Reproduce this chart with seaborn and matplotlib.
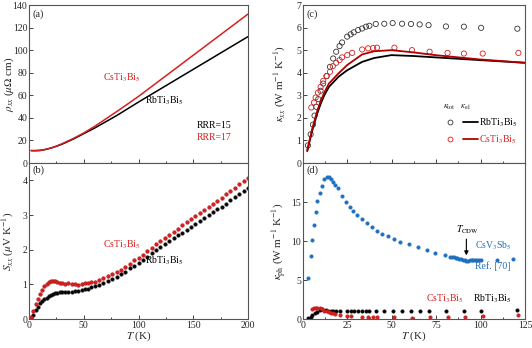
import numpy as np
import pandas as pd
import matplotlib
matplotlib.use('Agg')
import matplotlib.pyplot as plt
import seaborn as sns
from matplotlib.lines import Line2D
from matplotlib.legend_handler import HandlerTuple

# ---- (a) resistivity ----
T_rho = [2, 5, 10, 15, 20, 25, 30, 40, 50, 60, 70, 80, 90, 100, 110, 120, 130, 140, 150, 160, 170, 180, 190, 200]
rho_rb = [11, 11, 11.2, 12, 13.2, 14.8, 16.6, 21, 26, 31, 36.5, 42, 48, 54, 59.8, 65.6, 71.4, 77.2, 83, 88.8, 94.6, 100.4, 106.2, 112]
rho_cs = [11, 10.8, 11, 12, 13.3, 15, 17, 21.5, 26.6, 32.5, 39, 45.5, 52.2, 59, 66.3, 73.6, 80.9, 88.2, 95.5, 102.8, 110.1, 117.4, 124.7, 132]

# ---- (b) Seebeck ----
T_s = [2, 4, 6, 8, 10, 12, 14, 16, 18, 20, 22, 24, 26, 28, 30, 33, 36, 39, 42, 45, 48, 51, 54, 57, 60,
       64, 68, 72, 76, 80, 84, 88, 92, 96, 100, 104, 108, 112, 116, 120, 124, 128, 132, 136, 140,
       144, 148, 152, 156, 160, 164, 168, 172, 176, 180, 184, 188, 192, 196, 200]
S_rb = [0.03, 0.12, 0.25, 0.36, 0.45, 0.52, 0.58, 0.62, 0.66, 0.70, 0.72, 0.74, 0.76, 0.77, 0.78, 0.79, 0.79,
        0.79, 0.80, 0.81, 0.83, 0.86, 0.88, 0.91, 0.94, 0.99, 1.05, 1.10, 1.15, 1.21, 1.29, 1.37, 1.46, 1.54,
        1.62, 1.71, 1.80, 1.89, 1.98, 2.07, 2.15, 2.24, 2.33, 2.41, 2.49, 2.58, 2.66, 2.74, 2.83, 2.91, 2.99,
        3.08, 3.16, 3.24, 3.33, 3.42, 3.51, 3.60, 3.69, 3.78]
S_cs = [0.05, 0.22, 0.42, 0.58, 0.72, 0.85, 0.95, 1.02, 1.06, 1.09, 1.10, 1.09, 1.07, 1.05, 1.04, 1.02, 1.03,
        1.01, 1.00, 0.99, 1.01, 1.03, 1.04, 1.06, 1.08, 1.12, 1.17, 1.23, 1.29, 1.35, 1.42, 1.51, 1.60, 1.69,
        1.77, 1.86, 1.96, 2.06, 2.15, 2.24, 2.33, 2.43, 2.52, 2.61, 2.70, 2.80, 2.89, 2.97, 3.06, 3.15, 3.24,
        3.32, 3.41, 3.50, 3.60, 3.69, 3.78, 3.88, 3.97, 4.06]

# ---- (c) thermal conductivity ----
T_ktot_rb = [2.8, 4.3, 5.6, 6.5, 7.5, 8.6, 9.9, 11.4, 13.3, 15.2, 17, 18.7, 20.6, 22, 24.9, 26.8, 28.6, 31, 33.3,
             35.5, 37.4, 41, 45.8, 50.5, 55.8, 60.8, 65.7, 70.7, 80.5, 90.6, 100.3, 120.7]
ktot_rb = [0.78, 1.27, 1.7, 2.1, 2.49, 2.83, 3.2, 3.52, 3.85, 4.26, 4.63, 4.93, 5.18, 5.34, 5.6, 5.7, 5.79, 5.89,
           5.96, 6.04, 6.08, 6.16, 6.17, 6.2, 6.17, 6.16, 6.14, 6.11, 6.05, 6.04, 5.99, 5.95]
T_ktot_cs = [4.7, 6.2, 7.1, 8.4, 9.9, 11.4, 13.3, 15.2, 16.8, 18.7, 20.6, 22, 24.9, 27.7, 33.3, 36.7, 39.5, 41.7,
             51.5, 61.4, 71.3, 81.4, 90.6, 101.2, 121.3]
ktot_cs = [2.46, 2.68, 2.9, 3.12, 3.37, 3.64, 3.85, 4.04, 4.29, 4.44, 4.56, 4.68, 4.78, 4.88, 5.03, 5.08, 5.09,
           5.11, 5.11, 5.0, 4.93, 4.88, 4.85, 4.85, 4.88]
T_kel = [2.4, 5, 8, 10, 12, 14.6, 20, 24.9, 33.3, 40, 49.8, 62.3, 74.5, 99.4, 125]
kel_rb = [0.53, 1.38, 2.19, 2.63, 3.0, 3.37, 3.82, 4.11, 4.48, 4.65, 4.78, 4.74, 4.68, 4.56, 4.44]
kel_cs = [0.55, 1.45, 2.3, 2.75, 3.12, 3.52, 3.97, 4.34, 4.81, 4.95, 5.0, 4.9, 4.78, 4.59, 4.44]

# ---- (d) phonon thermal conductivity ----
T_csv = [3, 4.3, 5.2, 6.2, 7.1, 8, 9.4, 10.5, 11.8, 13.3, 14.6, 15.9, 17, 18.3, 19.6, 22, 24, 26.2, 28.3, 30.5,
         33.3, 36.1, 38.9, 41.7, 44.5, 47.9, 51.1, 54.8, 59.5, 64.7, 69.8, 74.5, 79.7, 83, 84, 85, 86, 87, 88,
         89, 90, 91, 92, 93, 94, 95, 96, 97, 98, 99, 100, 109, 118.5]
kph_csv = [5.3, 8.1, 10.1, 12.1, 13.7, 15.1, 16.2, 17.1, 17.9, 18.2, 18.2, 18.0, 17.6, 17.2, 16.8, 15.8, 15.0,
           14.4, 13.9, 13.3, 12.8, 12.3, 11.8, 11.3, 10.9, 10.6, 10.3, 9.9, 9.6, 9.2, 8.8, 8.5, 8.2, 8.0, 7.95,
           7.9, 7.85, 7.8, 7.75, 7.7, 7.6, 7.55, 7.45, 7.5, 7.55, 7.55, 7.6, 7.6, 7.6, 7.6, 7.6, 7.6, 7.65]
T_kph_cs = [4.9, 6.2, 7.1, 8, 9.4, 10.5, 11.8, 13.3, 14.6, 15.9, 17, 18.3, 20.6, 24.9, 27.3, 33.3, 36.7, 39.5,
            41.7, 51.5, 61.4, 71.3, 81.4, 91.3, 101.2, 121.3]
kph_cs = [1.24, 1.45, 1.45, 1.45, 1.37, 1.24, 1.07, 0.98, 0.94, 0.81, 0.73, 0.64, 0.56, 0.43, 0.38, 0.3, 0.3,
          0.3, 0.3, 0.21, 0.17, 0.21, 0.21, 0.3, 0.43, 0.51]
T_kph_rb = [3, 4.3, 5.2, 6.5, 7.7, 9.4, 10.9, 12.7, 14, 15.5, 17, 18.7, 20.6, 24.9, 26.8, 28.6, 31, 33.3, 35.5,
            37.4, 41, 45.8, 50.5, 55.8, 60.8, 65.7, 70.7, 80.5, 90.6, 100.3, 120.7]
kph_rb = [0.09, 0.3, 0.51, 0.73, 0.94, 1.15, 1.24, 1.15, 1.07, 1.07, 1.03, 1.03, 0.98, 0.98, 0.98, 0.98, 0.98,
          0.98, 0.98, 1.03, 1.03, 1.03, 1.07, 1.07, 1.07, 1.07, 1.07, 1.07, 1.07, 1.07, 1.15]

RED = '#d42020'
BLUE = '#1f6fc0'

sns.set_style('ticks')
plt.rcParams['font.family'] = ['Liberation Serif', 'DejaVu Serif']
plt.rcParams['mathtext.fontset'] = 'stix'
plt.rcParams['xtick.direction'] = 'in'
plt.rcParams['ytick.direction'] = 'in'
plt.rcParams['axes.edgecolor'] = '#555555'
plt.rcParams['axes.linewidth'] = 0.8

fig = plt.figure(figsize=(5.32, 3.48), dpi=100)
axa = fig.add_axes([0.0545, 0.5316, 0.4117, 0.454])
axb = fig.add_axes([0.0545, 0.0833, 0.4117, 0.4483])
axc = fig.add_axes([0.5695, 0.5316, 0.4173, 0.454])
axd = fig.add_axes([0.5695, 0.0833, 0.4173, 0.4483])

lfs = 8
tfs = 7

# (a)
sns.lineplot(x=T_rho, y=rho_rb, ax=axa, color='black', lw=1.1)
sns.lineplot(x=T_rho, y=rho_cs, ax=axa, color=RED, lw=1.1)
axa.set_xlim(0, 200)
axa.set_ylim(0, 140)
axa.set_yticks(range(0, 141, 20))
axa.set_xticks([0, 50, 100, 150, 200])
axa.set_xticks(range(25, 200, 50), minor=True)
axa.tick_params(labelbottom=False)
axa.set_ylabel(r'$\rho_{xx}$ ($\mu\Omega$ cm)', fontsize=lfs)
axa.yaxis.set_label_coords(-0.058, 0.5)
axa.text(0.015, 0.97, '(a)', transform=axa.transAxes, fontsize=7.5, va='top')
axa.text(68, 73, r'CsTi$_3$Bi$_5$', color=RED, fontsize=7)
axa.text(106, 53, r'RbTi$_3$Bi$_5$', color='black', fontsize=7)
axa.text(153, 31, 'RRR=15', color='black', fontsize=7)
axa.text(153, 20, 'RRR=17', color=RED, fontsize=7)

# (b)
sns.scatterplot(x=T_s, y=S_rb, ax=axb, color='black', s=7, edgecolor='#333333', linewidth=0.3)
sns.scatterplot(x=T_s, y=S_cs, ax=axb, color=RED, s=7, edgecolor='#aa1010', linewidth=0.3)
axb.set_xlim(0, 200)
axb.set_ylim(0, 4.5)
axb.set_yticks([0, 1, 2, 3, 4])
axb.set_xticks([0, 50, 100, 150, 200])
axb.set_xticks(range(25, 200, 50), minor=True)
axb.set_ylabel(r'$S_{xx}$ ($\mu$V K$^{-1}$)', fontsize=lfs)
axb.yaxis.set_label_coords(-0.058, 0.5)
axb.set_xlabel(r'$T$ (K)', fontsize=lfs, labelpad=0)
axb.text(0.015, 0.985, '(b)', transform=axb.transAxes, fontsize=7.5, va='top')
axb.text(68, 2.07, r'CsTi$_3$Bi$_5$', color=RED, fontsize=7)
axb.text(106, 1.6, r'RbTi$_3$Bi$_5$', color='black', fontsize=7)

# (c)
sns.scatterplot(x=T_ktot_rb, y=ktot_rb, ax=axc, marker='o', s=14, facecolor='none',
                edgecolor='#333333', linewidth=0.6)
sns.scatterplot(x=T_ktot_cs, y=ktot_cs, ax=axc, marker='o', s=14, facecolor='none',
                edgecolor=RED, linewidth=0.6)
sns.lineplot(x=T_kel, y=kel_rb, ax=axc, color='black', lw=1.3)
sns.lineplot(x=T_kel, y=kel_cs, ax=axc, color='#b00000', lw=1.3)
axc.set_xlim(0, 125)
axc.set_ylim(0, 7)
axc.set_yticks(range(0, 8))
axc.set_xticks([0, 25, 50, 75, 100, 125])
axc.set_xticks(np.arange(12.5, 125, 25), minor=True)
axc.tick_params(labelbottom=False)
axc.set_ylabel(r'$\kappa_{xx}$ (W m$^{-1}$ K$^{-1}$)', fontsize=lfs)
axc.yaxis.set_label_coords(-0.068, 0.5)
axc.text(0.015, 0.97, '(c)', transform=axc.transAxes, fontsize=7.5, va='top')
h_rb = (Line2D([], [], marker='o', ls='none', mfc='none', mec='#333333', ms=3.5, mew=0.6),
        Line2D([], [], color='black', lw=1.3))
h_cs = (Line2D([], [], marker='o', ls='none', mfc='none', mec=RED, ms=3.5, mew=0.6),
        Line2D([], [], color='#b00000', lw=1.3))
leg = axc.legend([h_rb, h_cs], [r'RbTi$_3$Bi$_5$', r'CsTi$_3$Bi$_5$'],
                 handler_map={tuple: HandlerTuple(ndivide=None, pad=0.5)},
                 handlelength=3.6, handletextpad=0.1, frameon=False, fontsize=7,
                 title=r'$\kappa_{\rm tot}$   $\kappa_{\rm el}$', title_fontsize=6.5,
                 loc='lower right', bbox_to_anchor=(1.0, 0.06), labelspacing=0.45, borderpad=0.3)
leg._legend_box.align = 'left'
for t, c in zip(leg.get_texts(), ['black', RED]):
    t.set_color(c)

# (d)
sns.scatterplot(x=T_csv, y=kph_csv, ax=axd, color=BLUE, s=7, edgecolor=BLUE, linewidth=0.2)
sns.scatterplot(x=T_kph_rb, y=kph_rb, ax=axd, color='black', s=7, edgecolor='#222222', linewidth=0.2)
sns.scatterplot(x=T_kph_cs, y=kph_cs, ax=axd, color=RED, s=7, edgecolor='#aa1010', linewidth=0.2)
axd.set_xlim(0, 125)
axd.set_ylim(0, 20)
axd.set_yticks([0, 5, 10, 15])
axd.set_xticks([0, 25, 50, 75, 100, 125])
axd.set_xticks(np.arange(12.5, 125, 25), minor=True)
axd.set_ylabel(r'$\kappa_{\rm ph}$ (W m$^{-1}$ K$^{-1}$)', fontsize=lfs)
axd.yaxis.set_label_coords(-0.068, 0.5)
axd.set_xlabel(r'$T$ (K)', fontsize=lfs, labelpad=0)
axd.text(0.015, 0.985, '(d)', transform=axd.transAxes, fontsize=7.5, va='top')
axd.text(69, 2.2, r'CsTi$_3$Bi$_5$', color=RED, fontsize=7)
axd.text(96, 2.2, r'RbTi$_3$Bi$_5$', color='black', fontsize=7)
axd.text(97, 9.0, r'CsV$_3$Sb$_5$', color=BLUE, fontsize=7)
axd.text(97, 6.4, 'Ref. [70]', color=BLUE, fontsize=7)
axd.text(86, 11.1, r'$T_{\rm CDW}$', color='black', fontsize=7)
axd.annotate('', xy=(92, 7.8), xytext=(92, 10.6),
             arrowprops=dict(arrowstyle='-|>', color='black', lw=0.8, mutation_scale=6))

for ax in (axa, axb, axc, axd):
    ax.tick_params(which='both', labelsize=tfs, width=0.6, pad=1.2)
    ax.tick_params(which='major', length=3)
    ax.tick_params(which='minor', length=1.8)
    for s in ax.spines.values():
        s.set_visible(True)

fig.savefig('out.png', dpi=100)
